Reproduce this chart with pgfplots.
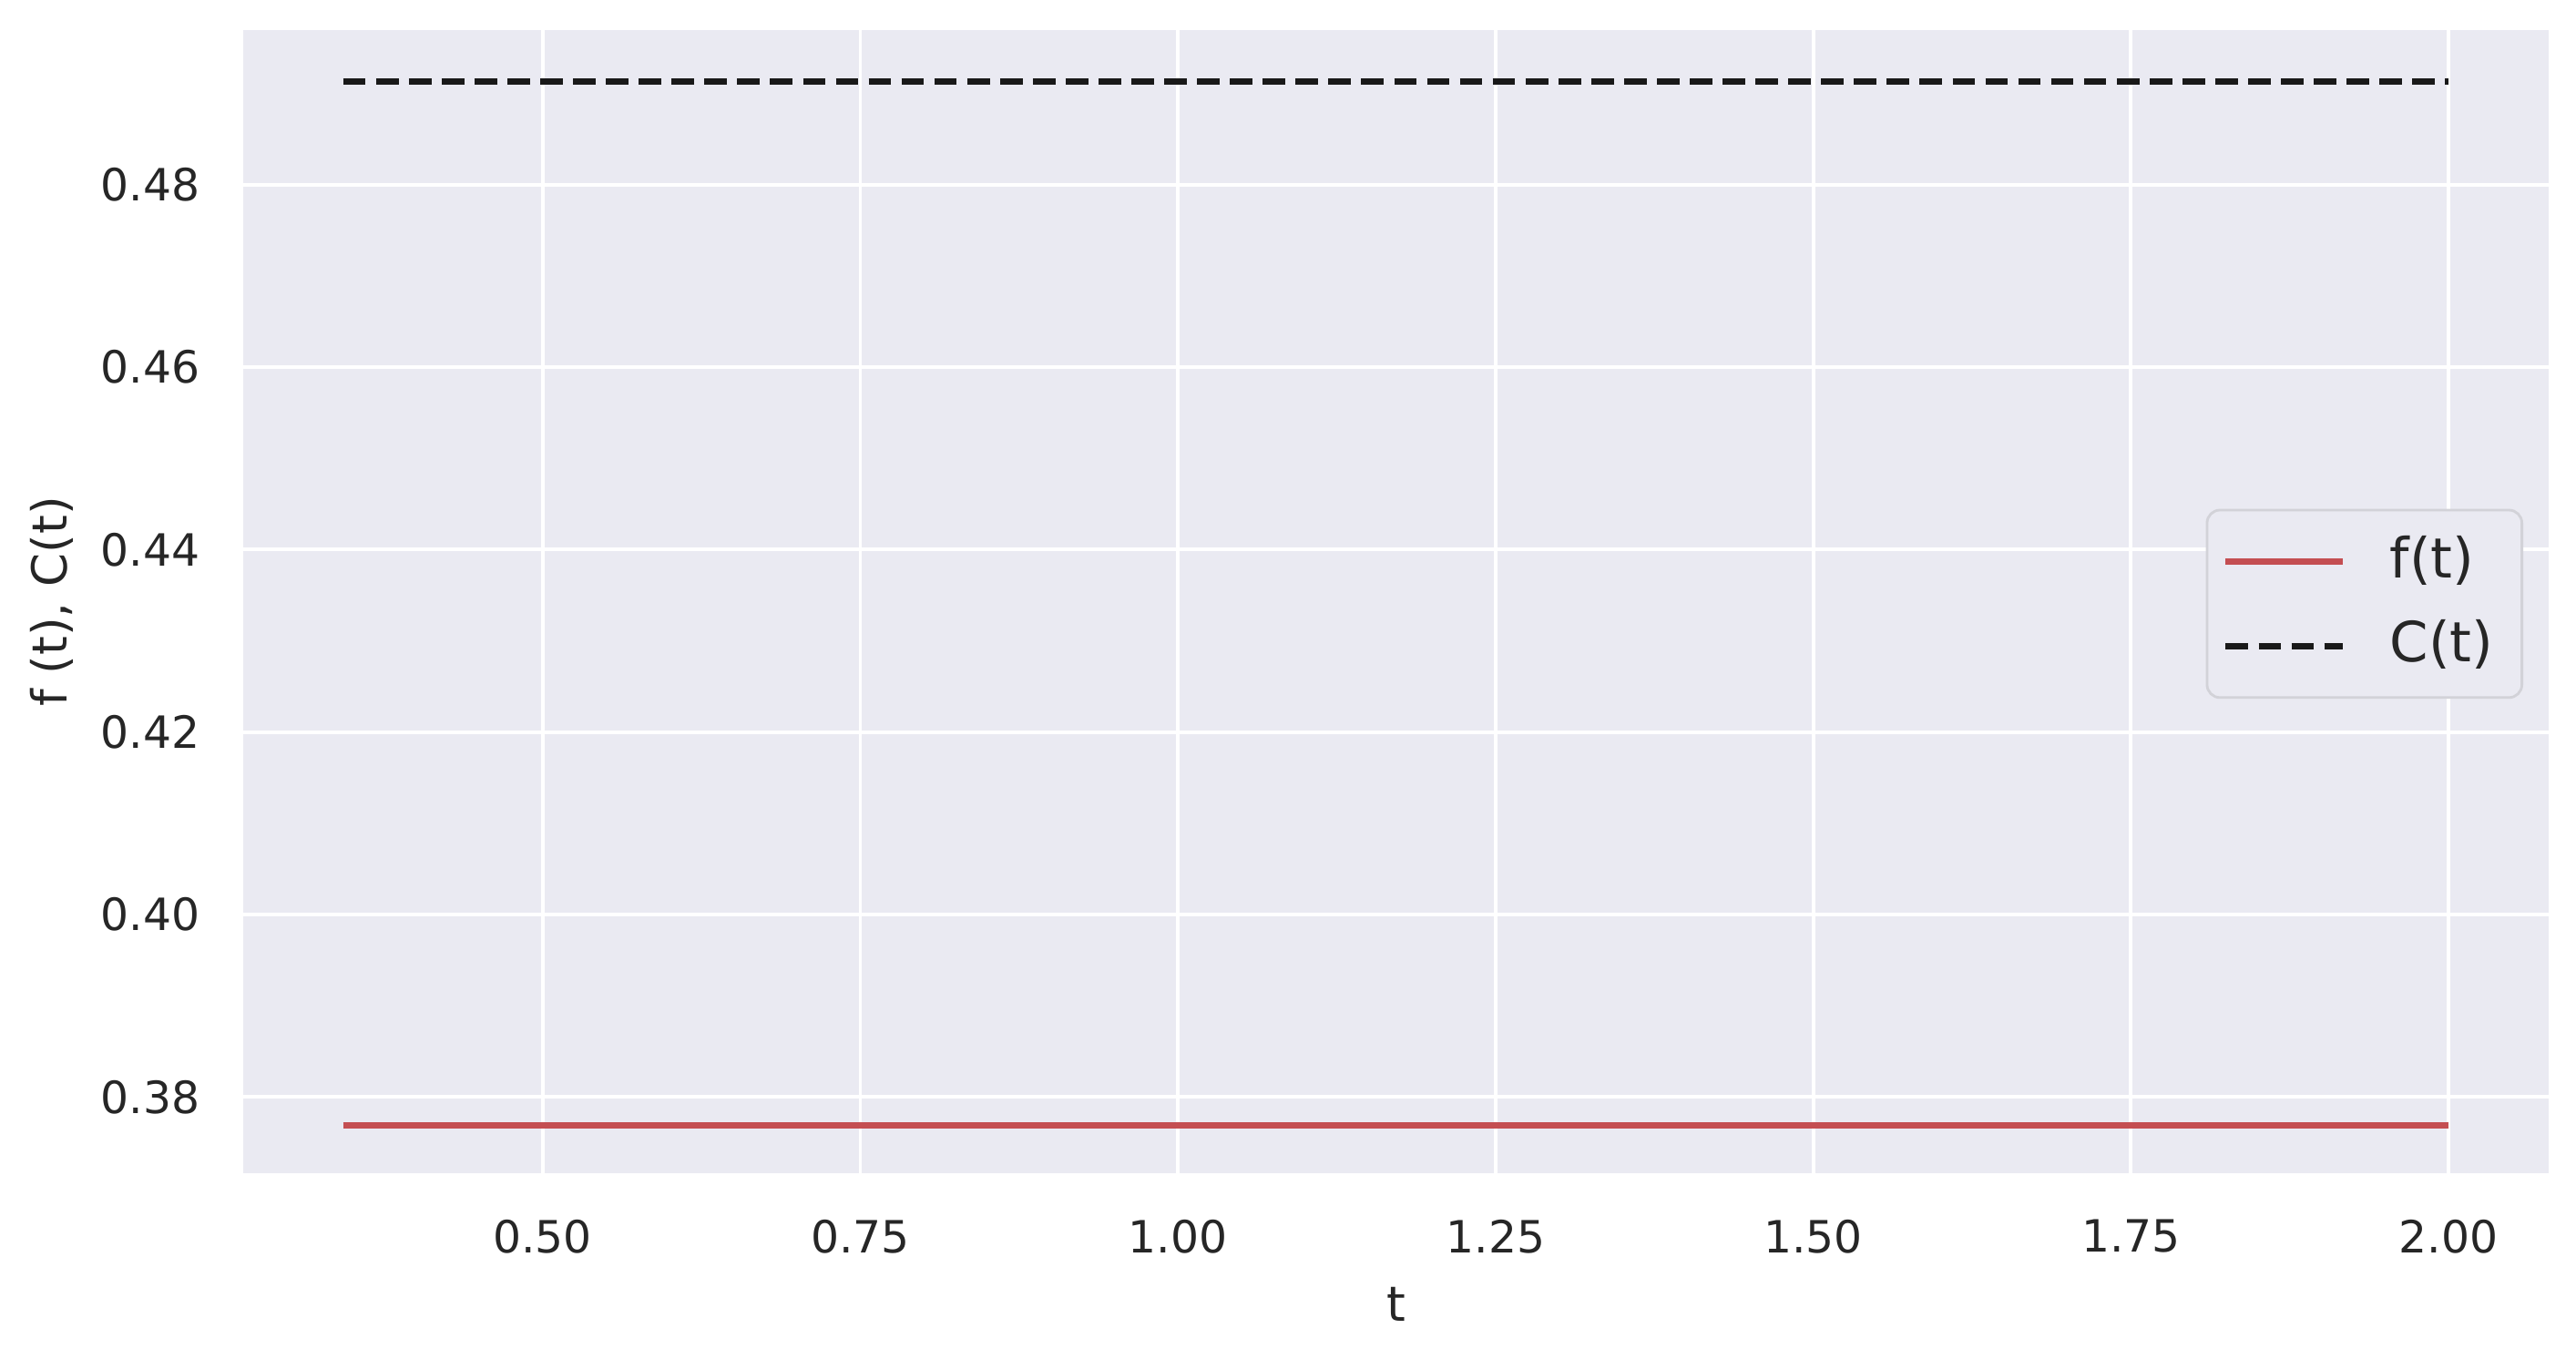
\documentclass[border=0pt]{standalone}
\usepackage{fontspec}
\setmainfont{DejaVu Sans}
\setsansfont{DejaVu Sans}
\usepackage{xcolor}
\usepackage{pgfplots}
\pgfplotsset{compat=1.18}

\definecolor{sbbg}{HTML}{EAEAF2}
\definecolor{sbred}{HTML}{C44E52}
\definecolor{sbtext}{HTML}{262626}
\definecolor{sbedge}{HTML}{D2D2D8}

\begin{document}
\begin{tikzpicture}
\begin{axis}[
    name=ax,
    scale only axis,
    width=358.1pt, height=177.4pt,
    xmin=0.264, xmax=2.079,
    ymin=0.3717, ymax=0.4969,
    xtick={0.5,0.75,1.0,1.25,1.5,1.75,2.0},
    ytick={0.38,0.40,0.42,0.44,0.46,0.48},
    /pgf/number format/.cd, fixed, fixed zerofill, precision=2, assume math mode=true,
    /pgfplots/.cd,
    axis background/.style={fill=sbbg},
    axis line style={draw=none},
    tick style={draw=none},
    grid=major,
    major grid style={white, line width=0.55pt},
    ticklabel style={font=\fontsize{6.9}{8}\selectfont, text=sbtext, inner sep=0pt},
    xticklabel style={yshift=-7.1pt},
    yticklabel style={xshift=-6.5pt},
    xlabel={t},
    ylabel={f (t), C(t)},
    label style={font=\fontsize{7.5}{9}\selectfont, text=sbtext, inner sep=0pt},
    xlabel shift=5pt,
    ylabel shift=4pt,
    legend cell align=left,
    legend image code/.code={\draw[#1] (0pt,0pt) -- (18.2pt,0pt);},
    legend style={
        at={(1,0.498)}, anchor=east, xshift=-4.0pt,
        draw=sbedge, fill=sbbg, rounded corners=2pt,
        font=\fontsize{8.6}{10}\selectfont, text=sbtext,
        inner xsep=2.4pt, inner ysep=2.0pt,
        row sep=1.05pt,
        /tikz/every odd column/.append style={column sep=4.8pt},
    },
]
\addplot[sbred, line width=1pt] coordinates {
    (0.343,0.37687) (1.0,0.37687) (1.5,0.37687) (2.0,0.37687)
};
\addlegendentry{f(t)}
\addplot[black!90, line width=1pt, dash pattern=on 3.5pt off 1.6pt] coordinates {
    (0.343,0.49132) (1.0,0.49132) (1.5,0.49132) (2.0,0.49132)
};
\addlegendentry{C(t)}
\end{axis}
\pgfresetboundingbox
\path ([shift={(-37.7pt,-27.3pt)}]ax.south west) rectangle ([shift={(4.2pt,4.71pt)}]ax.north east);
\end{tikzpicture}
\end{document}
